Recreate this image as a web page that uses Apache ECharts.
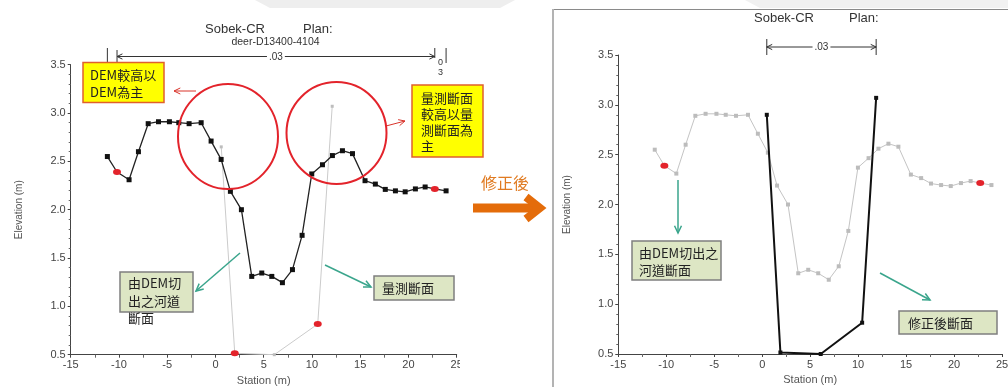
<!DOCTYPE html>
<html>
<head>
<meta charset="utf-8">
<script src="https://cdn.jsdelivr.net/npm/echarts@6/dist/echarts.min.js"></script>
<style>
  html, body { margin: 0; padding: 0; background: #fff; }
  #c { width: 1008px; height: 387px; }
</style>
</head>
<body>
<div id="c"></div>
<script>
// DEM-derived cross-section: station (m) and elevation (m)
const demStation = [-11.2, -10.2, -8.95, -7.98, -6.97, -5.9, -4.77, -3.8, -2.73, -1.48, -0.45, 0.59,
  1.55, 2.69, 3.76, 4.8, 5.84, 6.94, 7.98, 8.98, 9.98, 11.09, 12.12, 13.16, 14.2, 15.5, 16.57,
  17.6, 18.65, 19.66, 20.72, 21.73, 22.73, 23.9];
const demElev = [2.55, 2.39, 2.31, 2.60, 2.89, 2.91, 2.91, 2.90, 2.89, 2.90, 2.71, 2.52,
  2.19, 2.00, 1.31, 1.345, 1.31, 1.245, 1.38, 1.735, 2.37, 2.465, 2.56, 2.61, 2.58, 2.30, 2.265,
  2.21, 2.195, 2.185, 2.215, 2.235, 2.215, 2.195];
const demBankIdx = [1, 32];           // bank points, drawn red

// surveyed channel section
const surveyStation = [0.6, 2.0, 6.1, 10.6, 12.1];
const surveyElev = [2.65, 0.515, 0.5, 0.817, 3.07];
const surveyBankIdx = [1, 3];

// corrected channel section
const fixStation = [0.48, 1.9, 6.1, 10.42, 11.88];
const fixElev = [2.90, 0.515, 0.5, 0.814, 3.07];

const roughLabel = '.03';
const xRange = [-15, 25, 5];
const yRange = [0.5, 3.5, 0.5];

const LATIN = '"Liberation Sans", Arial, sans-serif';
const CJK = '"Noto Sans CJK TC", "Noto Sans CJK SC", sans-serif';
const RED = '#e3232b';

function pairs(xs, ys, bankIdx, bankStyle) {
  return xs.map((x, i) => {
    if (bankIdx && bankIdx.includes(i)) {
      return { value: [x, ys[i]], symbol: 'circle', symbolSize: [8, 6], itemStyle: { color: RED } };
    }
    return [x, ys[i]];
  });
}

function xAxis(gi) {
  return {
    type: 'value', gridIndex: gi, min: xRange[0], max: xRange[1], interval: xRange[2],
    name: 'Station (m)', nameLocation: 'middle', nameGap: 20,
    nameTextStyle: { color: '#555', fontSize: 11, fontFamily: LATIN },
    axisLine: { onZero: false, lineStyle: { color: '#444', width: 1 } },
    axisTick: { show: true, length: 3, lineStyle: { color: '#444' } },
    minorTick: { show: true, splitNumber: 2, length: 3, lineStyle: { color: '#666' } },
    splitLine: { show: false },
    axisLabel: { color: '#444', fontSize: 11, margin: 5, fontFamily: LATIN, showMinLabel: true, showMaxLabel: true }
  };
}
function yAxis(gi) {
  return {
    type: 'value', gridIndex: gi, min: yRange[0], max: yRange[1], interval: yRange[2],
    name: 'Elevation (m)', nameLocation: 'middle', nameGap: 46, nameRotate: 90,
    nameTextStyle: { color: '#555', fontSize: 10, fontFamily: LATIN },
    axisLine: { show: true, onZero: false, lineStyle: { color: '#444', width: 1 } },
    axisTick: { show: true, length: 3, lineStyle: { color: '#444' } },
    minorTick: { show: true, splitNumber: 5, length: 2, lineStyle: { color: '#666' } },
    splitLine: { show: false },
    axisLabel: { color: '#444', fontSize: 11, margin: 5, fontFamily: LATIN,
      formatter: v => v.toFixed(1), showMinLabel: true, showMaxLabel: true }
  };
}

const option = {
  animation: false,
  backgroundColor: '#ffffff',
  grid: [
    { left: 70.7, top: 64.7, width: 386, height: 290, containLabel: false, outerBoundsMode: 'none' },
    { left: 618.3, top: 55, width: 383.7, height: 299, containLabel: false, outerBoundsMode: 'none' }
  ],
  xAxis: [xAxis(0), xAxis(1)],
  yAxis: [yAxis(0), yAxis(1)],
  series: [
    {
      name: 'DEM', type: 'line', xAxisIndex: 0, yAxisIndex: 0, z: 3,
      data: pairs(demStation, demElev, demBankIdx),
      symbol: 'rect', symbolSize: 5, showAllSymbol: true,
      lineStyle: { color: '#222', width: 1.3 }, itemStyle: { color: '#111' }
    },
    {
      name: 'Survey', type: 'line', xAxisIndex: 0, yAxisIndex: 0, z: 2,
      data: pairs(surveyStation, surveyElev, surveyBankIdx),
      symbol: 'rect', symbolSize: 3, showAllSymbol: true,
      lineStyle: { color: '#cbcbcb', width: 1 }, itemStyle: { color: '#bdbdbd' }
    },
    {
      name: 'DEM', type: 'line', xAxisIndex: 1, yAxisIndex: 1, z: 2,
      data: pairs(demStation, demElev, demBankIdx),
      symbol: 'rect', symbolSize: 4, showAllSymbol: true,
      lineStyle: { color: '#c4c4c4', width: 1 }, itemStyle: { color: '#bcbcbc' }
    },
    {
      name: 'Corrected', type: 'line', xAxisIndex: 1, yAxisIndex: 1, z: 4,
      data: pairs(fixStation, fixElev),
      symbol: 'rect', symbolSize: 4, showAllSymbol: true,
      lineStyle: { color: '#111', width: 2 }, itemStyle: { color: '#111' }
    }
  ]
};

const chart = echarts.init(document.getElementById('c'), null, { renderer: 'canvas' });
chart.setOption(option);

const px = (gi, v) => chart.convertToPixel({ xAxisIndex: gi }, v);

function arrowHead(x1, y1, x2, y2, len, spread) {
  const a = Math.atan2(y2 - y1, x2 - x1);
  return [
    [x2 - len * Math.cos(a - spread), y2 - len * Math.sin(a - spread)],
    [x2, y2],
    [x2 - len * Math.cos(a + spread), y2 - len * Math.sin(a + spread)]
  ];
}
function arrow(x1, y1, x2, y2, color, w, len) {
  return [
    { type: 'line', silent: true, z: 20, shape: { x1, y1, x2, y2 }, style: { stroke: color, lineWidth: w } },
    { type: 'polyline', silent: true, z: 20, shape: { points: arrowHead(x1, y1, x2, y2, len, 0.45) },
      style: { stroke: color, lineWidth: w, fill: null } }
  ];
}
function vbar(x, y1, y2) {
  return { type: 'line', silent: true, z: 20, shape: { x1: x, y1, x2: x, y2 }, style: { stroke: '#333', lineWidth: 1 } };
}
function txt(x, y, s, font, color, extra) {
  return Object.assign({ type: 'text', silent: true, z: 30, x, y,
    style: Object.assign({ text: s, font, fill: color, textVerticalAlign: 'middle' }, extra || {}) });
}
function box(x, y, w, h, fill, stroke, lw) {
  return { type: 'rect', silent: true, z: 25, shape: { x, y, width: w, height: h },
    style: { fill, stroke, lineWidth: lw } };
}
function dimension(gi, xa, xb, y) {
  const mid = (xa + xb) / 2;
  return [
    ...arrow(mid, y, xa, y, '#333', 1, 6),
    ...arrow(mid, y, xb, y, '#333', 1, 6),
    txt(mid, y + 0.5, roughLabel, '10px ' + LATIN, '#333',
      { textAlign: 'center', backgroundColor: '#fff', padding: [0, 2] })
  ];
}

// left panel roughness span
const L0 = px(0, demStation[0]), L1 = px(0, demStation[demBankIdx[0]]);
const L2 = px(0, demStation[demBankIdx[1]]), L3 = px(0, demStation[demStation.length - 1]);
// right panel roughness span
const R0 = px(1, fixStation[0]), R1 = px(1, fixStation[fixStation.length - 1]);

const graphics = [
  // faint slide backdrop band
  { type: 'polygon', silent: true, z: -1, shape: { points: [[255, 0], [515, 0], [500, 8], [270, 8]] }, style: { fill: '#eeeeee' } },
  { type: 'polygon', silent: true, z: -1, shape: { points: [[745, 0], [1008, 0], [1008, 8], [760, 8]] }, style: { fill: '#f1f1f1' } },

  // right panel frame
  { type: 'line', silent: true, z: 5, shape: { x1: 553, y1: 9.5, x2: 1008, y2: 9.5 }, style: { stroke: '#8a8a8a', lineWidth: 1 } },
  { type: 'line', silent: true, z: 5, shape: { x1: 553, y1: 9, x2: 553, y2: 387 }, style: { stroke: '#b3b3b3', lineWidth: 2 } },

  // titles
  txt(205, 29.5, 'Sobek-CR', '13px ' + LATIN, '#333'),
  txt(303, 29.5, 'Plan:', '13px ' + LATIN, '#333'),
  txt(275.5, 42.5, 'deer-D13400-4104', '10.5px ' + LATIN, '#333', { textAlign: 'center' }),
  txt(754, 18.5, 'Sobek-CR', '13px ' + LATIN, '#333'),
  txt(849, 18.5, 'Plan:', '13px ' + LATIN, '#333'),

  // roughness dimension lines
  vbar(L0, 48, 63), vbar(L1, 50, 63), vbar(L2, 48, 58), vbar(L3, 48, 63),
  ...dimension(0, L1, L2, 56.5),
  txt((L2 + L3) / 2, 63, '0', '9px ' + LATIN, '#333', { textAlign: 'center' }),
  txt((L2 + L3) / 2, 72.5, '3', '9px ' + LATIN, '#333', { textAlign: 'center' }),
  vbar(R0, 39, 55), vbar(R1, 39, 55),
  ...dimension(1, R0, R1, 47),

  // highlighted zones
  { type: 'ellipse', silent: true, z: 22, shape: { cx: 228, cy: 136.5, rx: 50, ry: 52.5 }, style: { stroke: RED, lineWidth: 2, fill: null } },
  { type: 'ellipse', silent: true, z: 22, shape: { cx: 336.5, cy: 133, rx: 50, ry: 51 }, style: { stroke: RED, lineWidth: 2, fill: null } },

  // yellow notes
  box(83, 62.5, 81, 40, '#ffff00', '#e0602c', 1.5),
  txt(90, 66.5, 'DEM較高以\nDEM為主', '13px ' + CJK, '#222', { textVerticalAlign: 'top', lineHeight: 17 }),
  ...arrow(196, 91, 174, 91, '#d9342b', 1, 7),
  box(412, 85, 71, 72, '#ffff00', '#e0602c', 1.5),
  txt(421, 90, '量測斷面\n較高以量\n測斷面為\n主', '13px ' + CJK, '#222', { textVerticalAlign: 'top', lineHeight: 16 }),
  ...arrow(386, 126, 405, 121, '#d9342b', 1, 7),

  // green notes, left panel
  box(120, 272, 73, 40, '#dde6c4', '#7f7f7f', 1.5),
  txt(128, 274.5, '由DEM切\n出之河道\n斷面', '13px ' + CJK, '#222', { textVerticalAlign: 'top', lineHeight: 17.5 }),
  ...arrow(240, 253, 196, 291, '#3aa58c', 1.5, 8),
  box(374, 276, 80, 24, '#dde6c4', '#7f7f7f', 1.5),
  txt(382, 288, '量測斷面', '13px ' + CJK, '#222'),
  ...arrow(325, 265, 371, 287, '#3aa58c', 1.5, 8),

  // correction arrow between panels
  txt(481, 183, '修正後', '16px ' + CJK, '#e07b22'),
  { type: 'line', silent: true, z: 20, shape: { x1: 473, y1: 208, x2: 535, y2: 208 }, style: { stroke: '#e46c0a', lineWidth: 9 } },
  { type: 'polyline', silent: true, z: 20, shape: { points: [[526, 197], [540, 208], [526, 219]] },
    style: { stroke: '#e46c0a', lineWidth: 8, fill: null, lineJoin: 'miter' } },

  // green notes, right panel
  ...arrow(678, 180, 678, 233, '#3aa58c', 1.5, 8),
  box(632, 241, 89, 39, '#dde6c4', '#7f7f7f', 1.5),
  txt(639, 244.5, '由DEM切出之\n河道斷面', '13px ' + CJK, '#222', { textVerticalAlign: 'top', lineHeight: 17 }),
  ...arrow(880, 273, 930, 300, '#3aa58c', 1.5, 8),
  box(899, 311, 98, 23, '#dde6c4', '#7f7f7f', 1.5),
  txt(908, 323, '修正後斷面', '13px ' + CJK, '#222'),

  // left panel cut-off edge
  { type: 'rect', silent: true, z: 40, shape: { x: 460, y: 357, width: 12, height: 14 }, style: { fill: '#fff' } }
];

chart.setOption({ graphic: graphics });
</script>
</body>
</html>
